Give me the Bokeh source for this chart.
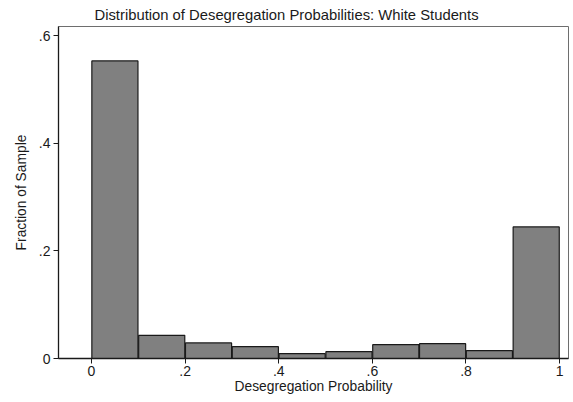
from bokeh.plotting import figure
from bokeh.models import Range1d, FixedTicker
from bokeh.embed import file_html
from bokeh.resources import INLINE

# Histogram of desegregation probabilities (fraction of sample per 0.1 bin)
bin_edges = [0.0, 0.1, 0.2, 0.3, 0.4, 0.5, 0.6, 0.7, 0.8, 0.9, 1.0]
fractions = [0.553, 0.043, 0.029, 0.022, 0.009, 0.0127, 0.0257, 0.0275, 0.0145, 0.2445]

x_ticks = [0, 0.2, 0.4, 0.6, 0.8, 1.0]
x_tick_labels = ["0", ".2", ".4", ".6", ".8", "1"]
y_ticks = [0, 0.2, 0.4, 0.6]
y_tick_labels = ["0", ".2", ".4", ".6"]

FONT = "Liberation Sans"

p = figure(
    width=573, height=402,
    output_backend="svg", toolbar_location=None,
    x_range=Range1d(-0.0705, 1.019), y_range=Range1d(0, 0.617),
    min_border_left=58, min_border_right=5, min_border_top=26, min_border_bottom=44,
    title="Distribution of Desegregation Probabilities: White Students",
)
p.background_fill_color = "white"
p.border_fill_color = "white"
p.grid.visible = False
p.outline_line_color = "#6e6e6e"
p.outline_line_width = 1

# title sits centred over the whole canvas, so anchor it from the left edge
p.title.align = "left"
p.title.text_font = FONT
p.title.text_font_size = "14.8px"
p.title.text_font_style = "normal"
p.title.text_color = "#1a1a1a"
p.title.offset = 36
p.title.standoff = 8

centers = [(lo + hi) / 2 for lo, hi in zip(bin_edges[:-1], bin_edges[1:])]
bin_w = bin_edges[1] - bin_edges[0]
p.vbar(x=centers, width=bin_w * 0.985, top=fractions, bottom=0,
       fill_color="#808080", line_color="#1a1a1a", line_width=1.2)

for ax, ticks, labels in ((p.xaxis[0], x_ticks, x_tick_labels), (p.yaxis[0], y_ticks, y_tick_labels)):
    ax.ticker = FixedTicker(ticks=ticks)
    ax.major_label_overrides = {t: l for t, l in zip(ticks, labels)}
    ax.minor_tick_line_color = None
    ax.major_tick_out = 5
    ax.major_tick_in = 0
    ax.axis_line_color = "#1a1a1a"
    ax.axis_line_width = 1.3
    ax.major_tick_line_color = "#1a1a1a"
    ax.major_label_text_font = FONT
    ax.major_label_text_font_size = "14px"
    ax.major_label_text_color = "#1a1a1a"
    ax.axis_label_text_font = FONT
    ax.axis_label_text_font_size = "13.8px"
    ax.axis_label_text_font_style = "normal"
    ax.axis_label_text_color = "#1a1a1a"

p.xaxis.axis_label = "Desegregation Probability"
p.yaxis.axis_label = "Fraction of Sample"
p.yaxis.major_label_orientation = "horizontal"
p.xaxis.major_label_standoff = 2
p.xaxis.axis_label_standoff = 0
p.yaxis.major_label_standoff = 3
p.yaxis.axis_label_standoff = 7

open("out.html", "w").write(file_html(p, INLINE))
